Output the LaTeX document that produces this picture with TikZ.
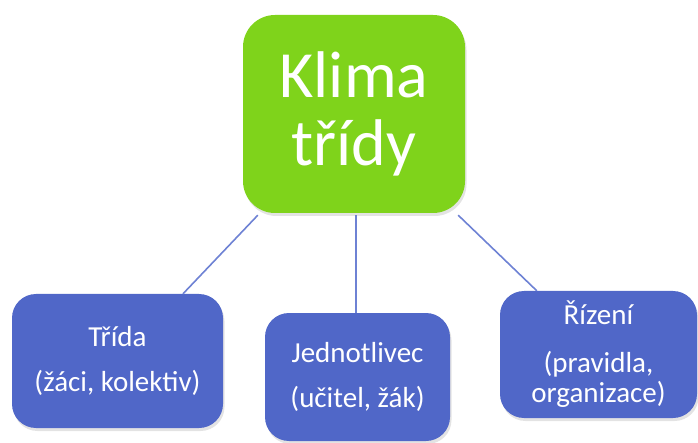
\documentclass[tikz,border=0pt]{standalone}
\usepackage{fontspec}
\setmainfont{Carlito}
\usepackage{xcolor}
\usetikzlibrary{shadows}
\definecolor{klimagreen}{RGB}{127,211,27}
\definecolor{boxblue}{RGB}{80,103,200}
\definecolor{lineblue}{RGB}{110,130,212}
\tikzset{
    boxshadow/.style={drop shadow={opacity=0.22,shadow xshift=1.5pt,shadow yshift=-3pt}},
    mainbox/.style={rectangle,rounded corners=32pt,fill=klimagreen,text=white,align=center,minimum width=222pt,minimum height=198pt,inner sep=0pt,boxshadow,font=\fontsize{66}{68}\selectfont},
    sidebox/.style={rectangle,rounded corners=24pt,fill=boxblue,text=white,align=center,inner sep=0pt,boxshadow,font=\fontsize{29}{45}\selectfont},
    link/.style={draw=lineblue,line width=1.6pt}
}
\begin{document}
    \begin{tikzpicture}[x=1pt,y=-1pt]
        \useasboundingbox (0,0) rectangle (698,443);
        \node[mainbox] (klima) at (354,114) {Klima\\třídy};
        \node[sidebox,minimum width=211pt,minimum height=134pt] (trida) at (117.5,361) {Třída\\(žáci, kolektiv)};
        \node[sidebox,minimum width=185pt,minimum height=128pt] (jednotlivec) at (357.5,377) {Jednotlivec\\(učitel, žák)};
        \node[sidebox,minimum width=197pt,minimum height=127pt,font=\fontsize{29}{30}\selectfont] (rizeni) at (598.5,354.5) {Řízení\\[18pt](pravidla,\\organizace)};
        \draw[link] ([xshift=15pt,yshift=-2pt]klima.south west) -- ([xshift=65.5pt]trida.north);
        \draw[link] ([xshift=2pt,yshift=-2pt]klima.south) -- ([xshift=-1.5pt]jednotlivec.north);
        \draw[link] ([xshift=-7pt,yshift=-2pt]klima.south east) -- ([xshift=37pt]rizeni.north west);
    \end{tikzpicture}
\end{document}
